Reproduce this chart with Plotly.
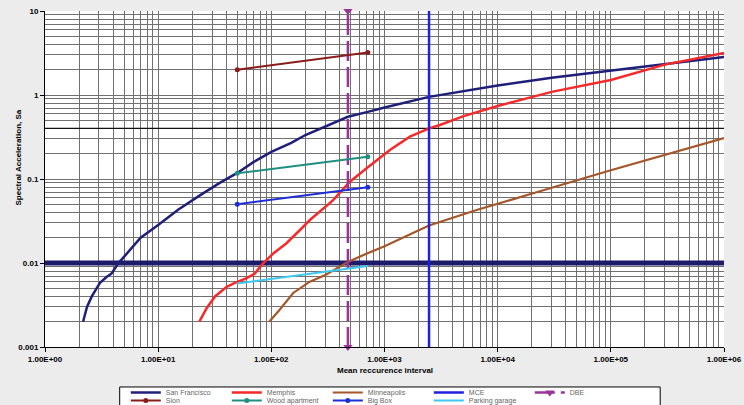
import plotly.graph_objects as go

# ---------------- data ----------------
sf_x = [2.17, 2.35, 2.59, 3.06, 3.5, 3.88, 4.44, 5.6, 7, 10, 15, 23, 35, 50, 70, 100, 150, 200, 300, 475, 712, 1000, 2475, 5000, 10000, 30000, 100000, 300000, 1000000]
sf_y = [0.002, 0.0030, 0.0040, 0.0058, 0.0068, 0.0075, 0.0099, 0.0143, 0.020, 0.0284, 0.043, 0.063, 0.09, 0.118, 0.16, 0.21, 0.27, 0.334, 0.42, 0.55, 0.63, 0.71, 0.95, 1.12, 1.3, 1.6, 1.95, 2.35, 2.83]

memphis_x = [23.1, 26.8, 31.8, 40.3, 47.7, 60.5, 71.6, 82.1, 104, 136, 179, 219, 352, 494, 695, 1116, 1676, 2480, 3085, 5000, 10000, 30000, 100000, 300000, 1000000]
memphis_y = [0.002, 0.0029, 0.0040, 0.0052, 0.0058, 0.0066, 0.0075, 0.0095, 0.013, 0.0172, 0.0247, 0.0325, 0.056, 0.093, 0.134, 0.221, 0.319, 0.40, 0.44, 0.56, 0.74, 1.09, 1.51, 2.3, 3.16]

minneapolis_x = [95.8, 119, 156, 219, 300, 475, 700, 1000, 2475, 6510, 20600, 49800, 100000, 1000000]
minneapolis_y = [0.002, 0.0028, 0.0044, 0.0060, 0.0072, 0.0103, 0.0130, 0.0158, 0.028, 0.0427, 0.0676, 0.097, 0.127, 0.307]

mce_x = [2475, 2475]
mce_y = [0.001, 10]

dbe_x = [475, 475]
dbe_y = [0.001, 10]

sion_x = [50, 712]
sion_y = [2.0, 3.2]

wood_x = [50, 712]
wood_y = [0.117, 0.184]

bigbox_x = [50, 712]
bigbox_y = [0.05, 0.08]

parking_x = [50, 712]
parking_y = [0.0057, 0.0092]

ref001_x = [1, 1000000]
ref001_y = [0.01, 0.01]

ref04_x = [1, 1000000]
ref04_y = [0.4, 0.4]

x_tickvals = [1, 10, 100, 1000, 10000, 100000, 1000000]
x_ticktext = ["1.00E+00", "1.00E+01", "1.00E+02", "1.00E+03", "1.00E+04", "1.00E+05", "1.00E+06"]
y_tickvals = [0.001, 0.01, 0.1, 1, 10]
y_ticktext = ["0.001", "0.01", "0.1", "1", "10"]

# ---------------- figure ----------------
FONT = "Liberation Sans, Arial, sans-serif"
fig = go.Figure()

# reference lines (no legend)
fig.add_trace(go.Scatter(x=ref04_x, y=ref04_y, mode="lines",
                         line=dict(color="#111111", width=1.3), showlegend=False, hoverinfo="skip"))
fig.add_trace(go.Scatter(x=ref001_x, y=ref001_y, mode="lines",
                         line=dict(color="#1c1c6b", width=5), showlegend=False, hoverinfo="skip"))

# row 1 legend
fig.add_trace(go.Scatter(x=sf_x, y=sf_y, name="San Francisco", mode="lines",
                         line=dict(color="#1f1f7a", width=2.5), legend="legend"))
fig.add_trace(go.Scatter(x=memphis_x, y=memphis_y, name="Memphis", mode="lines",
                         line=dict(color="#f52a2a", width=2.5), legend="legend"))
fig.add_trace(go.Scatter(x=minneapolis_x, y=minneapolis_y, name="Minneapolis", mode="lines",
                         line=dict(color="#a5562a", width=2.2), legend="legend"))
fig.add_trace(go.Scatter(x=mce_x, y=mce_y, name="MCE", mode="lines",
                         line=dict(color="#2020e0", width=2.5), legend="legend"))
fig.add_trace(go.Scatter(x=dbe_x, y=dbe_y, name="DBE", mode="lines+markers",
                         line=dict(color="#993399", width=2.5, dash="20px,6px"),
                         marker=dict(symbol="triangle-down", size=8, color="#993399"),
                         cliponaxis=False, legend="legend"))

# row 2 legend
fig.add_trace(go.Scatter(x=sion_x, y=sion_y, name="Sion", mode="lines+markers",
                         line=dict(color="#8b1c1c", width=2),
                         marker=dict(symbol="circle", size=5, color="#8b1c1c"), legend="legend2"))
fig.add_trace(go.Scatter(x=wood_x, y=wood_y, name="Wood apartment", mode="lines+markers",
                         line=dict(color="#1f8f80", width=2),
                         marker=dict(symbol="circle", size=5, color="#1f8f80"), legend="legend2"))
fig.add_trace(go.Scatter(x=bigbox_x, y=bigbox_y, name="Big Box", mode="lines+markers",
                         line=dict(color="#1f2fd8", width=2),
                         marker=dict(symbol="circle", size=5, color="#1f2fd8"), legend="legend2"))
fig.add_trace(go.Scatter(x=parking_x, y=parking_y, name="Parking garage", mode="lines",
                         line=dict(color="#3fc8f0", width=2), legend="legend2"))

minor_x = [m * 10 ** k for k in range(0, 6) for m in range(2, 10)]
minor_y = [m * 10.0 ** k for k in range(-3, 1) for m in range(2, 10)]

GRID = "#707070"
fig.update_xaxes(type="log", range=[0, 6], tickvals=x_tickvals, ticktext=x_ticktext,
                 showgrid=True, gridcolor=GRID, gridwidth=1, zeroline=False,
                 showline=True, linecolor="black", linewidth=1,
                 ticks="outside", ticklen=4, tickcolor="black",
                 tickfont=dict(family=FONT, size=8, color="black", weight="bold"),
                 minor=dict(tickvals=minor_x, showgrid=True, gridcolor=GRID, gridwidth=1, ticks=""))
fig.update_yaxes(type="log", range=[-3, 1], tickvals=y_tickvals, ticktext=y_ticktext,
                 showgrid=True, gridcolor=GRID, gridwidth=1, zeroline=False,
                 showline=True, linecolor="black", linewidth=1,
                 ticks="outside", ticklen=4, tickcolor="black",
                 tickfont=dict(family=FONT, size=8, color="black", weight="bold"),
                 minor=dict(tickvals=minor_y, showgrid=True, gridcolor=GRID, gridwidth=1, ticks=""))

legend_common = dict(orientation="h", bgcolor="rgba(0,0,0,0)", borderwidth=0,
                     font=dict(family=FONT, size=7, color="#666666"),
                     entrywidth=56, entrywidthmode="pixels", itemwidth=30,
                     xanchor="left", yanchor="middle", traceorder="normal")

fig.update_layout(
    width=744, height=405,
    margin=dict(l=45, r=20, t=11, b=58, autoexpand=False),
    paper_bgcolor="#ececec", plot_bgcolor="white",
    legend=dict(x=0.119, y=-0.1354, **legend_common),
    legend2=dict(x=0.119, y=-0.1592, **legend_common),
    shapes=[dict(type="rect", xref="paper", yref="paper", x0=0.110, x1=0.906, y0=-0.119, y1=-0.25,
                 line=dict(color="black", width=1), fillcolor="white", layer="below")],
    annotations=[
        dict(text="Mean reccurence interval", xref="paper", yref="paper", x=0.5, y=-0.0685,
             showarrow=False, xanchor="center", yanchor="middle",
             font=dict(family=FONT, size=8, color="black", weight="bold")),
        dict(text="Spectral Acceleration, Sa", xref="paper", yref="paper", x=-0.0405, y=0.5625,
             showarrow=False, xanchor="center", yanchor="middle", textangle=-90,
             font=dict(family=FONT, size=8, color="black", weight="bold")),
    ],
    showlegend=True,
)

fig.write_html("out.html", config={"displayModeBar": False},
               post_script="document.body.style.margin='0';")
